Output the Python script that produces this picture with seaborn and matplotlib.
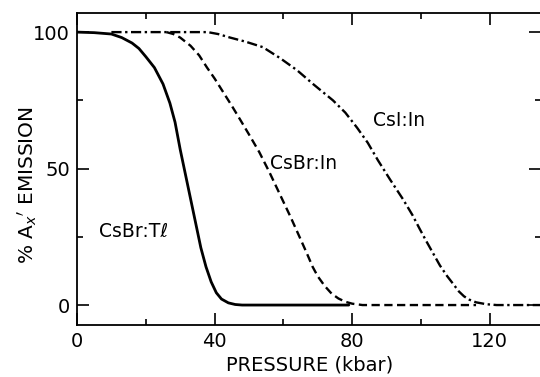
import numpy as np
import pandas as pd
import seaborn as sns
import matplotlib.pyplot as plt
from matplotlib.ticker import MultipleLocator

# curves (pressure in kbar, % emission)
tl_p = [0, 5, 10, 13, 16, 18, 20, 22.5, 25, 27, 28.5, 30, 31.5, 33, 34.5, 36,
        37.5, 39, 40.5, 42, 44, 46, 48, 79]
tl_e = [100, 99.8, 99.3, 98, 96, 94, 91, 87, 81, 74, 67, 57, 48, 39, 30, 21,
        14, 8.5, 4.5, 2.2, 0.8, 0.2, 0, 0]

brin_p = [26, 28, 30, 33, 35.5, 37.8, 40, 42.5, 45, 47.4, 50, 53, 56, 59, 62,
          64.5, 66.8, 68.5, 70, 72, 74, 76, 78, 80, 83, 116]
brin_e = [100, 99.3, 98, 95, 91.5, 87, 83, 78, 73, 68, 62.5, 56, 48.5, 40.5, 32.5,
          25.5, 19, 14, 10.5, 7, 4.2, 2.4, 1.2, 0.5, 0, 0]

csi_p = [10, 38, 41, 44.5, 49, 54, 59, 64, 68.6, 74.4, 78, 81.4, 84.5, 87.5, 91,
         94.8, 97.5, 99.7, 101.5, 103.5, 105.5, 107.6, 109.5, 111, 112.5, 114,
         116, 119, 122, 135]
csi_e = [100, 100, 99.3, 98, 96.5, 94.5, 90.5, 86, 81, 75, 70.5, 65, 59.5, 53, 46,
         38.7, 33, 27.7, 23.5, 19, 14.5, 10.6, 7.5, 5, 3.2, 2,
         1, 0.3, 0, 0]

labels = ['CsBr:T\u2113', 'CsBr:In', 'CsI:In']
label_pos = [(16.3, 27), (66, 52), (93.5, 67.5)]

sns.set_style('ticks')
plt.rcParams['font.family'] = ['DejaVu Sans']
plt.rcParams['text.color'] = 'black'
plt.rcParams['axes.labelcolor'] = 'black'
plt.rcParams['xtick.color'] = 'black'
plt.rcParams['ytick.color'] = 'black'

fig = plt.figure(figsize=(5.4, 3.77), dpi=100)
ax = fig.add_axes([0.1426, 0.138, 0.86, 0.8275])

df_tl = pd.DataFrame({'p': tl_p, 'e': tl_e})
df_brin = pd.DataFrame({'p': brin_p, 'e': brin_e})
df_csi = pd.DataFrame({'p': csi_p, 'e': csi_e})

sns.lineplot(data=df_tl, x='p', y='e', ax=ax, color='black', lw=2.0)
sns.lineplot(data=df_brin, x='p', y='e', ax=ax, color='black', lw=1.7,
             linestyle=(0, (3.5, 1.9)))
sns.lineplot(data=df_csi, x='p', y='e', ax=ax, color='black', lw=1.7,
             linestyle=(0, (4.3, 1.5, 1.0, 1.5)))

for txt, (px, py) in zip(labels, label_pos):
    ax.text(px, py, txt, fontsize=13.5, ha='center', va='center')

ax.set_xlim(0, 135)
ax.set_ylim(-7.3, 107)
ax.xaxis.set_major_locator(MultipleLocator(40))
ax.xaxis.set_minor_locator(MultipleLocator(20))
ax.yaxis.set_major_locator(MultipleLocator(50))
ax.yaxis.set_minor_locator(MultipleLocator(25))
ax.tick_params(which='both', direction='in', top=True, right=True,
               color='black', width=1.2, labelsize=14)
ax.tick_params(which='major', length=8.5, pad=5)
ax.tick_params(which='minor', length=4.5)

for s in ax.spines.values():
    s.set_linewidth(1.3)
    s.set_color('black')

ax.set_xlabel('PRESSURE (kbar)', fontsize=14, labelpad=3)
ax.set_ylabel("% A$_{x}$$'$ EMISSION", fontsize=14.5)
ax.yaxis.set_label_coords(-0.082, 0.45)

fig.savefig('out.png', dpi=100)
